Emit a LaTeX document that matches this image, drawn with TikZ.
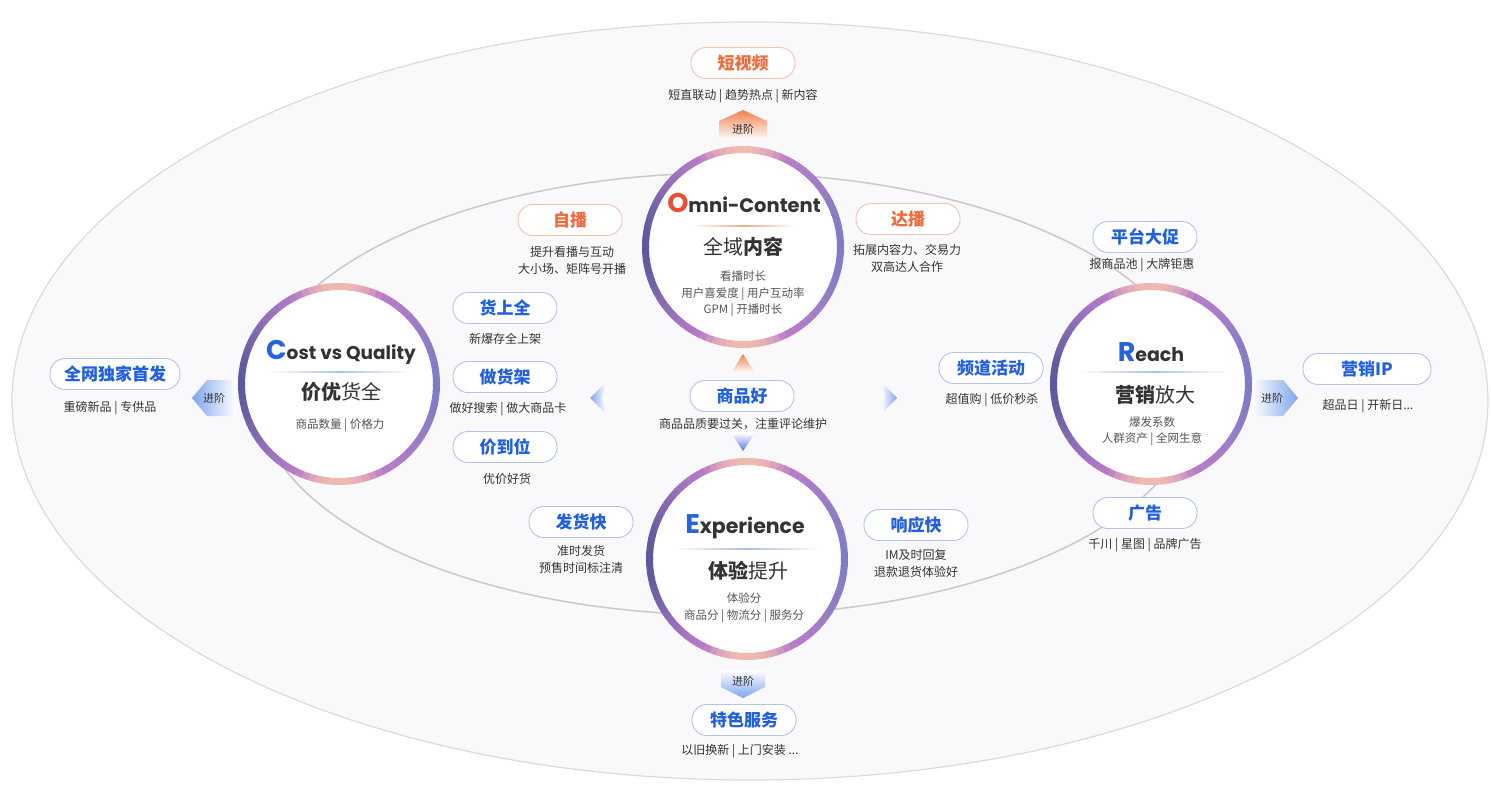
\documentclass[tikz,border=0pt]{standalone}
\usepackage{fontspec}
\setmainfont{Noto Sans CJK SC}
\newfontfamily\latinfont{Poppins}
\definecolor{txtblue}{HTML}{1F5FE6}
\definecolor{txtorange}{HTML}{F2693A}
\definecolor{pillblue}{HTML}{B3C4E6}
\definecolor{pillorange}{HTML}{F2C3AE}
\definecolor{txtdark}{HTML}{333333}
\definecolor{txtgray}{HTML}{555555}
\definecolor{ringL}{HTML}{5C589F}
\definecolor{ringR}{HTML}{7E7CC8}
\definecolor{ringO}{HTML}{C780CE}
\definecolor{ringP}{HTML}{F6C6AA}
\definecolor{arrblue}{HTML}{7FA6EC}
\definecolor{arrorange}{HTML}{F0824F}
\definecolor{bgin}{HTML}{F9F9FB}
\definecolor{titleO}{HTML}{EF4A36}
\definecolor{titleB}{HTML}{2463E8}
\definecolor{sepO}{HTML}{F3A88A}
\definecolor{sepB}{HTML}{AFC0DE}
\tikzset{
  pillb/.style={draw=pillblue, line width=0.9pt, fill=white, rounded corners=15pt,
    minimum width=104pt, minimum height=31pt, inner sep=0pt, text=txtblue,
    font=\bfseries\fontsize{17}{17}\selectfont},
  pillo/.style={pillb, draw=pillorange, text=txtorange},
  desc/.style={font=\fontsize{12}{17}\selectfont, text=txtdark, align=center, inner sep=0pt},
  csub/.style={font=\fontsize{11.5}{16.5}\selectfont, text=txtgray, align=center, inner sep=0pt},
  cbig/.style={font=\fontsize{20}{20}\selectfont, text=txtdark, inner sep=0pt},
  ctitle/.style={font=\latinfont\bfseries\fontsize{#1}{#1}\selectfont, text=txtdark, inner sep=0pt},
  jinjie/.style={font=\fontsize{11}{11}\selectfont, text=txtdark, inner sep=0pt},
}
\newcommand\ringat[1]{%
  \fill[white] (#1) circle (95);
  \foreach \ang in {0,4,...,356}{%
    \pgfmathsetmacro\sv{abs(sin(\ang+2))}%
    \pgfmathtruncatemacro\pr{50+50*cos(\ang+2)}%
    \pgfmathtruncatemacro\po{100*pow(\sv,1.6)}%
    \pgfmathtruncatemacro\pp{85*max(0,(\sv-0.9)/0.1)}%
    \colorlet{ringa}{ringR!\pr!ringL}%
    \colorlet{ringb}{ringO!\po!ringa}%
    \colorlet{ringc}{ringP!\pp!ringb}%
    \draw[ringc, line width=7pt] (#1) ++(\ang:97.5) arc[start angle=\ang, end angle=\ang+4.6, radius=97.5];
  }%
}
\newcommand\bigfirst[2]{\textcolor{#1}{\fontsize{27}{27}\selectfont #2}}
\begin{document}
\begin{tikzpicture}[x=1pt,y=-1pt]
  \useasboundingbox (0,0) rectangle (1491,800);
  \fill[white] (0,0) rectangle (1491,800);
  \draw[black!14, line width=1.2pt, fill=bgin] (750,401) ellipse (738 and 379);
  \draw[black!21, line width=1.5pt] (727,394) ellipse (470 and 221);

  \coordinate (omni) at (743,247);
  \coordinate (cost) at (339,384);
  \coordinate (reach) at (1151,384);
  \coordinate (exper) at (747,559);
  \foreach \c in {omni,cost,reach,exper} {\ringat{\c}}

  \shade[left color=white, right color=white, middle color=sepO] (692,225.4) rectangle (796,226.6);
  \shade[left color=white, right color=white, middle color=sepB] (268,371.4) rectangle (412,372.6);
  \shade[left color=white, right color=white, middle color=sepB] (1078,371.4) rectangle (1228,372.6);
  \shade[left color=white, right color=white, middle color=sepB] (672,548.4) rectangle (822,549.6);

  \node[ctitle=19.5] (omnit) at (744,203) {\bigfirst{titleO}{O}mni-Content};
  \node[cbig] (omnic) at (743,247) {全域\textbf{内容}};
  \node[csub] (omnis) at (743,294) {看播时长\\用户喜爱度 | 用户互动率\\GPM | 开播时长};
  \node[ctitle=18.5] (costt) at (341,352) {\bigfirst{titleB}{C}ost vs Quality};
  \node[cbig] (costc) at (341,392) {\textbf{价优}货全};
  \node[csub] (costs) at (340,425) {商品数量 | 价格力};
  \node[ctitle=19] (reacht) at (1151,352) {\bigfirst{titleB}{R}each};
  \node[cbig] (reachc) at (1155,395) {\textbf{营销}放大};
  \node[csub] (reachs) at (1152,431) {爆发系数\\人群资产 | 全网生意};
  \node[ctitle=20.5] (expert) at (745,527) {\bigfirst{titleB}{E}xperience};
  \node[cbig] (experc) at (748,571) {\textbf{体验}提升};
  \node[csub] (expers) at (744,607.5) {体验分\\商品分 | 物流分 | 服务分};

  \shade[top color=arrorange, bottom color=white] (743,110) -- (767,121) -- (767,140) -- (719,140) -- (719,121) -- cycle;
  \shade[top color=white, bottom color=arrblue] (721,670) -- (765,670) -- (765,687) -- (743,698) -- (721,687) -- cycle;
  \shade[left color=arrblue, right color=white] (192,398) -- (207,380) -- (236,380) -- (236,416) -- (207,416) -- cycle;
  \shade[left color=white, right color=arrblue] (1252,380) -- (1283,380) -- (1298,398) -- (1283,416) -- (1252,416) -- cycle;
  \shade[top color=arrorange, bottom color=white] (743,354) -- (755,373) -- (731,373) -- cycle;
  \shade[top color=white, bottom color=arrblue!70!blue] (731,433) -- (755,433) -- (743,451) -- cycle;
  \shade[left color=arrblue, right color=white] (590,398) -- (606,382) -- (602,398) -- (606,414) -- cycle;
  \shade[left color=white, right color=arrblue] (897,398) -- (881,382) -- (885,398) -- (881,414) -- cycle;
  \node[jinjie] (upt) at (743,129) {进阶};
  \node[jinjie] (downt) at (743,681) {进阶};
  \node[jinjie] (leftt) at (214,398) {进阶};
  \node[jinjie] (rightt) at (1272,398) {进阶};

  \node[pillo] (shortvideo) at (743,63) {短视频};
  \node[desc] (shortvideod) at (743,96) {短直联动 | 趋势热点 | 新内容};
  \node[pillo] (selfcast) at (570,220) {自播};
  \node[desc] (selfcastd) at (572,260.5) {提升看播与互动\\大小场、矩阵号开播};
  \node[pillo] (kolcast) at (908,219) {达播};
  \node[desc] (kolcastd) at (907,258.5) {拓展内容力、交易力\\双高达人合作};
  \node[pillb] (goodsfull) at (505,308) {货上全};
  \node[desc] (goodsfulld) at (505,339) {新爆存全上架};
  \node[pillb] (shelf) at (505,377) {做货架};
  \node[desc] (shelfd) at (508,409) {做好搜索 | 做大商品卡};
  \node[pillb] (price) at (505,447) {价到位};
  \node[desc] (priced) at (507,479) {优价好货};
  \node[pillb, minimum width=130pt] (exclusive) at (115,374) {全网独家首发};
  \node[desc] (exclusived) at (110,408) {重磅新品 | 专供品};
  \node[pillb] (promo) at (1145,237) {平台大促};
  \node[desc] (promod) at (1142,265) {报商品池 | 大牌钜惠};
  \node[pillb] (channel) at (991,368) {频道活动};
  \node[desc] (channeld) at (992,400) {超值购 | 低价秒杀};
  \node[pillb, minimum width=128pt] (mktip) at (1367,369) {营销IP};
  \node[desc] (mktipd) at (1368,406) {超品日 | 开新日...};
  \node[pillb] (ads) at (1145,513) {广告};
  \node[desc] (adsd) at (1145,545) {千川 | 星图 | 品牌广告};
  \node[pillb] (goodgoods) at (742,396) {商品好};
  \node[desc] (goodgoodsd) at (743,424) {商品品质要过关，注重评论维护};
  \node[pillb] (fastship) at (581,522) {发货快};
  \node[desc] (fastshipd) at (581,559.5) {准时发货\\预售时间标注清};
  \node[pillb] (fastreply) at (916,525) {响应快};
  \node[desc] (fastreplyd) at (916,563.5) {IM及时回复\\退款退货体验好};
  \node[pillb] (special) at (744,720) {特色服务};
  \node[desc] (speciald) at (740,751) {以旧换新 | 上门安装 ...};
\end{tikzpicture}
\end{document}
